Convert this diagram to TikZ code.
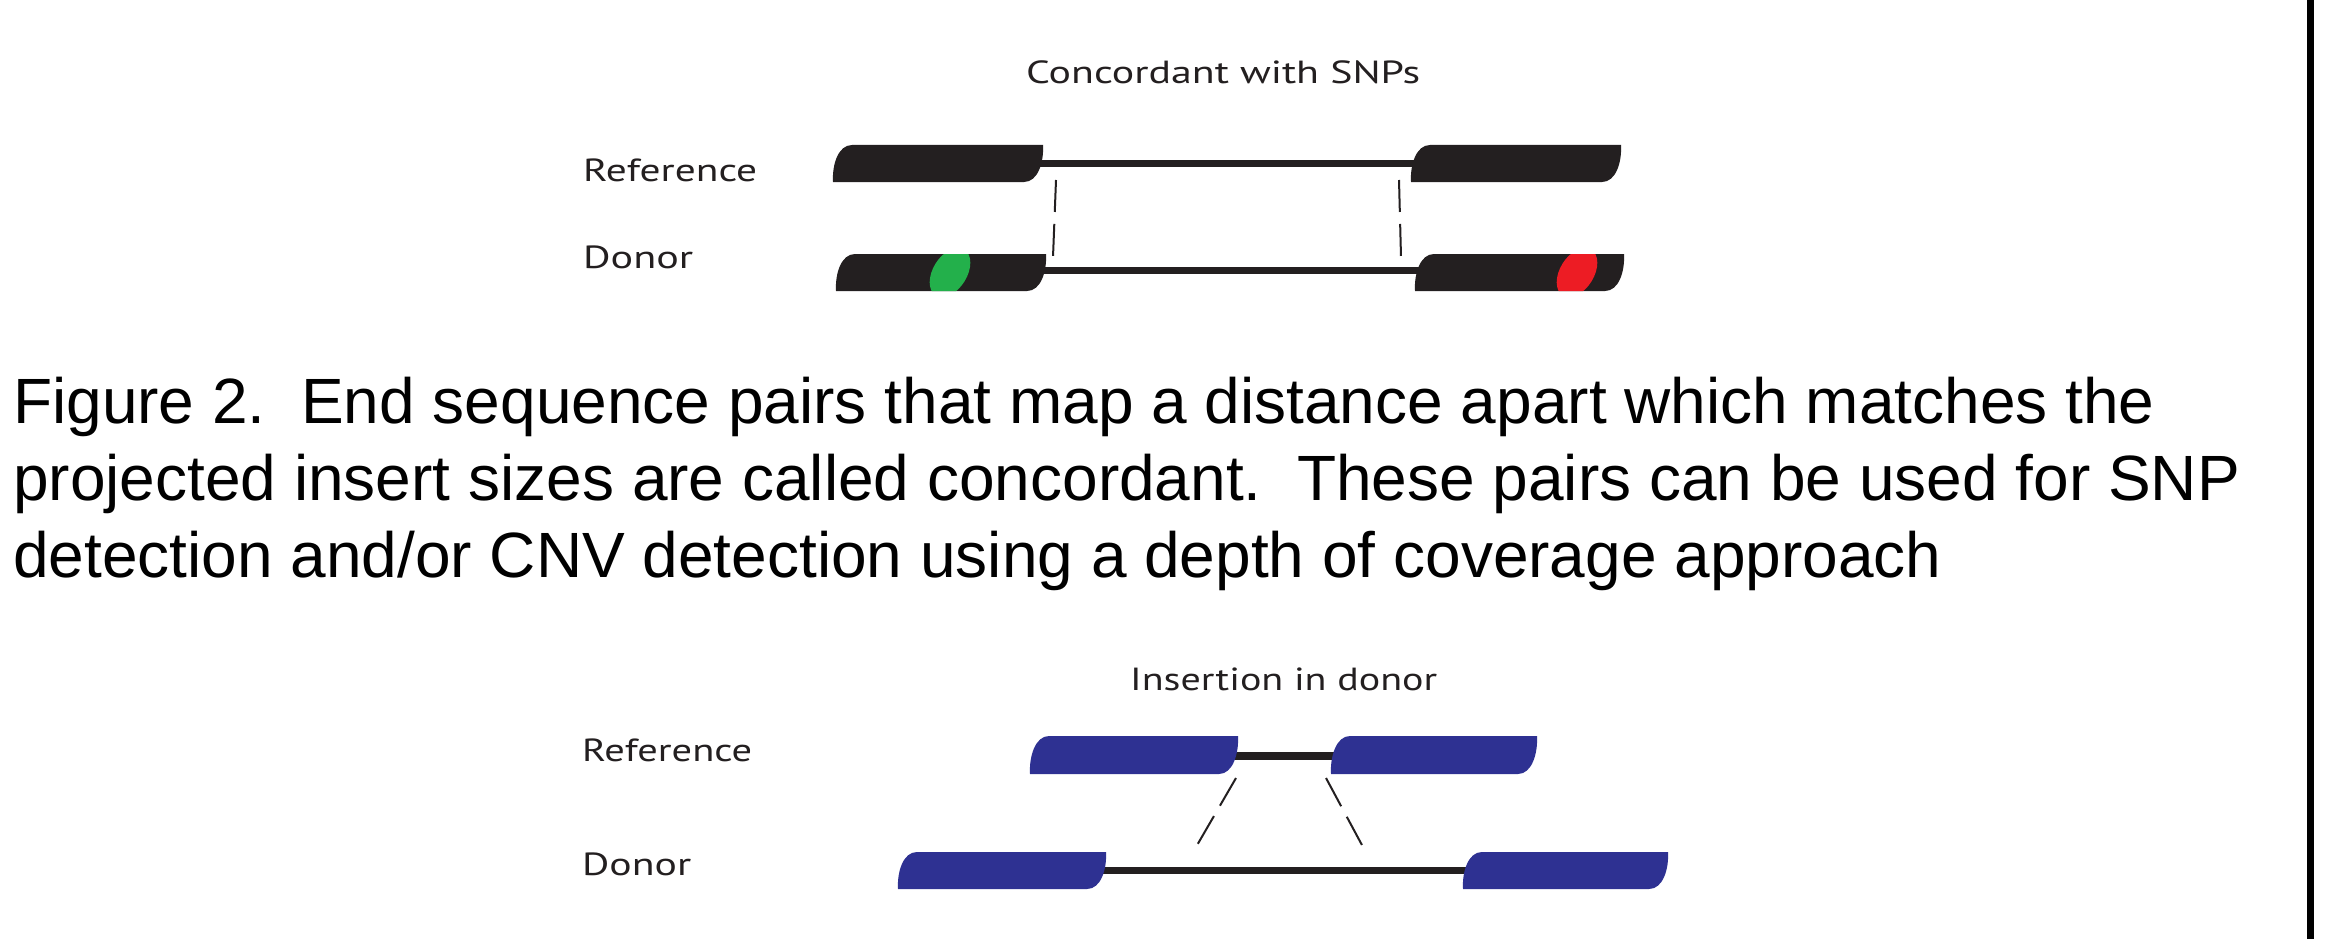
\documentclass[tikz,border=0pt]{standalone}
\usepackage{fontspec}
\usepackage{graphicx}
\newfontfamily\capfont{Liberation Sans}
\newfontfamily\lblfont{PT Sans}
\definecolor{blkblack}{RGB}{35,31,32}
\definecolor{dnablue}{RGB}{46,49,146}
\definecolor{snpgreen}{RGB}{35,176,75}
\definecolor{snpred}{RGB}{237,28,36}
% a sequence read: #1 style, #2 bottom-left x, #3 top-right x, #4 top y, #5 bottom y
\newcommand{\seqblock}[5]{\fill[#1] (#2,#5) .. controls +(-1,-17) and +(-14,0) .. ({#2+19},#4) -- (#3,#4) .. controls +(1,17) and +(14,0) .. ({#3-19},#5) -- cycle;}
\newcommand{\clipblock}[4]{\clip (#1,#4) .. controls +(-1,-17) and +(-14,0) .. ({#1+19},#3) -- (#2,#3) .. controls +(1,17) and +(14,0) .. ({#2-19},#4) -- cycle;}
\tikzset{
  blk/.style={fill=blkblack},
  bblk/.style={fill=dnablue},
  link/.style={line width=7pt, draw=blkblack},
  dashlink/.style={line width=2pt, draw=blkblack, dash pattern=on 32pt off 12pt},
  lbl/.style={inner sep=0pt, anchor=base west, text=blkblack, font=\lblfont\fontsize{32}{38}\selectfont},
  captext/.style={inner sep=0pt, anchor=base west, text=black, font=\capfont\fontsize{64}{77}\selectfont},
}
\begin{document}
\begin{tikzpicture}[x=1pt,y=-1pt]
\useasboundingbox (0,0) rectangle (2331,939);
\fill[white] (0,0) rectangle (2331,939);

% ---------- top diagram: concordant with SNPs ----------
\node[lbl] (t1title) at (1026,83.5) {\resizebox{394pt}{\height}{Concordant with SNPs}};
\node[lbl] (t1ref) at (583,181.5) {\resizebox{174pt}{\height}{Reference}};
\node[lbl] (t1don) at (583,268) {\resizebox{110pt}{\height}{Donor}};

\coordinate (t1refA) at (1038,163);
\coordinate (t1refB) at (1416,163);
\coordinate (t1donA) at (1040,270.5);
\coordinate (t1donB) at (1420,270.5);
\draw[link] (t1refA) -- (t1refB);
\draw[link] (t1donA) -- (t1donB);

\seqblock{blk}{833}{1043}{145}{182}
\seqblock{blk}{1411}{1621}{145}{182}
\seqblock{blk}{836}{1046}{254}{291}
\seqblock{blk}{1415}{1624}{254}{291}

\begin{scope}
  \clipblock{836}{1046}{254}{291}
  \fill[snpgreen, shift={(950,272.5)}, rotate=-32] (0,0) ellipse [x radius=17, y radius=27];
\end{scope}
\begin{scope}
  \clipblock{1415}{1624}{254}{291}
  \fill[snpred, shift={(1577,272.5)}, rotate=-32] (0,0) ellipse [x radius=17, y radius=27];
\end{scope}

\coordinate (t1d1a) at (1056,180);
\coordinate (t1d1b) at (1053,257);
\coordinate (t1d2a) at (1399,180);
\coordinate (t1d2b) at (1401,257);
\draw[dashlink] (t1d1a) -- (t1d1b);
\draw[dashlink] (t1d2a) -- (t1d2b);

% ---------- caption ----------
\node[captext] (cap1) at (13,423) {Figure 2.\ \ End sequence pairs that map a distance apart which matches the};
\node[captext] (cap2) at (13,500) {projected insert sizes are called concordant.\ \ These pairs can be used for SNP};
\node[captext] (cap3) at (13,577) {detection and/or CNV detection using a depth of coverage approach};

% ---------- bottom diagram: insertion in donor ----------
\node[lbl] (t2title) at (1130,690) {\resizebox{307pt}{\height}{Insertion in donor}};
\node[lbl] (t2ref) at (582,761) {\resizebox{170pt}{\height}{Reference}};
\node[lbl] (t2don) at (582,875) {\resizebox{109pt}{\height}{Donor}};

\coordinate (t2refA) at (1230,755.5);
\coordinate (t2refB) at (1337,755.5);
\coordinate (t2donA) at (1098,870.5);
\coordinate (t2donB) at (1470,870.5);
\draw[link, line width=8pt] (t2refA) -- (t2refB);
\draw[link, line width=7.5pt] (t2donA) -- (t2donB);

\seqblock{bblk}{1030}{1238}{736}{774}
\seqblock{bblk}{1331}{1537}{736}{774}
\seqblock{bblk}{898}{1106}{852}{889}
\seqblock{bblk}{1463}{1668}{852}{889}

\coordinate (t2d1a) at (1236,778);
\coordinate (t2d1b) at (1196,847);
\coordinate (t2d2a) at (1326,778);
\coordinate (t2d2b) at (1363,847);
\draw[dashlink] (t2d1a) -- (t2d1b);
\draw[dashlink] (t2d2a) -- (t2d2b);

% ---------- right border bar ----------
\coordinate (barT) at (2310.5,0);
\coordinate (barB) at (2310.5,939);
\draw[line width=7.5pt, black] (barT) -- (barB);
\end{tikzpicture}
\end{document}
